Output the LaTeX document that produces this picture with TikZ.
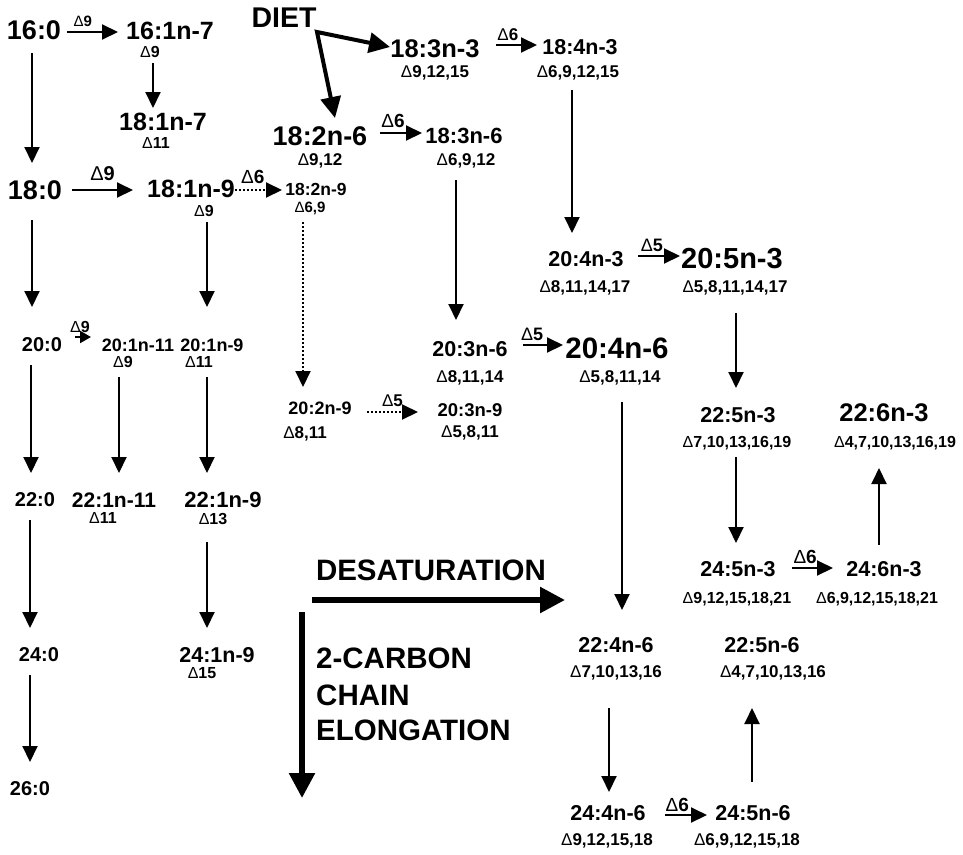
\documentclass[tikz,border=0pt]{standalone}
\usepackage{fontspec}
\setmainfont{Liberation Sans}
\usetikzlibrary{arrows.meta}
\newcommand\fsz[1]{\fontsize{#1}{#1}\selectfont}
\newcommand\dlt{{\mdseries Δ}}
\begin{document}
\begin{tikzpicture}[x=1pt,y=-1pt,
  tx/.style={inner sep=0pt, text depth=0pt, font=\bfseries\fsz{#1}},
  tx/.default=21,
  elab/.style={inner sep=0pt, text depth=0pt, font=\bfseries\fsz{#1}},
  elab/.default=18,
  arr/.style={line width=2pt, -{Triangle[length=16pt,width=15pt]}},
  dotarr/.style={arr, dash pattern=on 2pt off 2pt},
  dietarr/.style={line width=4pt, line join=miter, {Triangle[length=21pt,width=20pt]}-{Triangle[length=21pt,width=20pt]}},
  bigarr/.style={line width=5.5pt, -{Triangle[length=25pt,width=25pt]}}]
\fill[white] (0,0) rectangle (963,854);
\useasboundingbox (0,0) rectangle (963,854);
% ---- nodes
\node[tx=27] (n160) at (34,30) {16:0};
\node[tx=25] (n161) at (170,31) {16:1n-7};
\node[tx=16] (d161) at (150,52) {\dlt9};
\node[tx=25] (n181n7) at (163,122) {18:1n-7};
\node[tx=16] (d181n7) at (156,143) {\dlt11};
\node[tx=28.5] (diet) at (284,18) {DIET};
\node[tx=25.5] (n183) at (435,49) {18:3n-3};
\node[tx=17] (d183) at (435,72) {\dlt9,12,15};
\node[tx=21.5] (n184) at (580,47) {18:4n-3};
\node[tx=17] (d184) at (578,72) {\dlt6,9,12,15};
\node[tx=27] (n182n6) at (320,136) {18:2n-6};
\node[tx=17] (d182n6) at (320,160) {\dlt9,12};
\node[tx=22] (n183n6) at (464,136) {18:3n-6};
\node[tx=17] (d183n6) at (466,160) {\dlt6,9,12};
\node[tx=27] (n180) at (35,190) {18:0};
\node[tx=25] (n181n9) at (191,189) {18:1n-9};
\node[tx=16] (d181n9) at (204,211) {\dlt9};
\node[tx=17.5] (n182n9) at (316,189) {18:2n-9};
\node[tx=15] (d182n9) at (310,207) {\dlt6,9};
\node[tx=21.5] (n204n3) at (586,259) {20:4n-3};
\node[tx=17] (d204n3) at (585,287) {\dlt8,11,14,17};
\node[tx=29] (n205n3) at (732,258) {20:5n-3};
\node[tx=17] (d205n3) at (735,287) {\dlt5,8,11,14,17};
\node[tx=20] (n200) at (42,345) {20:0};
\node[tx=18] (n201n11) at (138,345) {20:1n-11};
\node[tx=16] (d201n11) at (123,362) {\dlt9};
\node[tx=18] (n201n9) at (212,345) {20:1n-9};
\node[tx=16] (d201n9) at (199,362) {\dlt11};
\node[tx=21.5] (n203n6) at (470,349) {20:3n-6};
\node[tx=17] (d203n6) at (470,377) {\dlt8,11,14};
\node[tx=29.5] (n204n6) at (617,348) {20:4n-6};
\node[tx=17] (d204n6) at (620,377) {\dlt5,8,11,14};
\node[tx=18] (n202n9) at (320,408) {20:2n-9};
\node[tx=17] (d202n9) at (305,433) {\dlt8,11};
\node[tx=18.5] (n203n9) at (470,410) {20:3n-9};
\node[tx=17] (d203n9) at (470,432) {\dlt5,8,11};
\node[tx=21.5] (n225n3) at (738,415) {22:5n-3};
\node[tx=16] (d225n3) at (737,442) {\dlt7,10,13,16,19};
\node[tx=25.5] (n226n3) at (884,413) {22:6n-3};
\node[tx=16] (d226n3) at (895,442) {\dlt4,7,10,13,16,19};
\node[tx=20] (n220) at (35,500) {22:0};
\node[tx=21] (n221n11) at (114,500) {22:1n-11};
\node[tx=16] (d221n11) at (103,518) {\dlt11};
\node[tx=22] (n221n9) at (223,500) {22:1n-9};
\node[tx=16] (d221n9) at (213,519) {\dlt13};
\node[tx=29.5] (desat) at (431,570) {DESATURATION};
\node[tx=21.5] (n245n3) at (738,569) {24:5n-3};
\node[tx=16] (d245n3) at (737,598) {\dlt9,12,15,18,21};
\node[tx=21.5] (n246n3) at (884,569) {24:6n-3};
\node[tx=16] (d246n3) at (877,598) {\dlt6,9,12,15,18,21};
\node[tx=21.5] (n224n6) at (616,645) {22:4n-6};
\node[tx=17] (d224n6) at (616,672) {\dlt7,10,13,16};
\node[tx=21.5] (n225n6) at (762,645) {22:5n-6};
\node[tx=17] (d225n6) at (773,672) {\dlt4,7,10,13,16};
\node[tx=20] (n240) at (39,655) {24:0};
\node[tx=21.5] (n241n9) at (217,655) {24:1n-9};
\node[tx=16] (d241n9) at (202,673) {\dlt15};
\node[tx=29.5,anchor=west] (el1) at (316,658) {2-CARBON};
\node[tx=29.5,anchor=west] (el2) at (316,695) {CHAIN};
\node[tx=29.5,anchor=west] (el3) at (316,730) {ELONGATION};
\node[tx=20] (n260) at (30,789) {26:0};
\node[tx=21.5] (n244n6) at (608,813) {24:4n-6};
\node[tx=17] (d244n6) at (607,840) {\dlt9,12,15,18};
\node[tx=21.5] (n245n6) at (753,813) {24:5n-6};
\node[tx=17] (d245n6) at (747,840) {\dlt6,9,12,15,18};
% ---- connectors
\draw[arr] ([xshift=33pt,yshift=-2pt]n160.center) -- node[elab=15,pos=.31,above=5pt]{\dlt9} ([xshift=-52pt,yshift=-1pt]n161.center);
\draw[arr] ([xshift=-2pt,yshift=-23pt]n160.center) -- ([xshift=-3pt,yshift=27pt]n180.center);
\draw[arr] ([xshift=3pt,yshift=-11pt]d161.center) -- ([xshift=-10pt,yshift=14pt]n181n7.center);
\draw[dietarr] ([xshift=15pt,yshift=18pt]n182n6.center) -- ([xshift=33pt,yshift=-14pt]diet.center) -- ([xshift=-45pt,yshift=2pt]n183.center);
\draw[arr] ([xshift=61pt,yshift=4pt]n183.center) -- node[elab=17,pos=.29,above=4pt]{\dlt6} ([xshift=-43pt,yshift=2pt]n184.center);
\draw[arr] ([xshift=-6pt,yshift=-18pt]d184.center) -- ([xshift=-14pt,yshift=26pt]n204n3.center);
\draw[arr] ([xshift=52pt,yshift=3pt]n204n3.center) -- node[elab=18,pos=.33,above=4pt]{\dlt5} ([xshift=-52pt,yshift=2pt]n205n3.center);
\draw[arr] ([xshift=60pt,yshift=3pt]n182n6.center) -- node[elab=19,pos=.31,above=5pt]{\dlt6} ([xshift=-42pt,yshift=3pt]n183n6.center);
\draw[arr] ([xshift=-10pt,yshift=-20pt]d183n6.center) -- ([xshift=-14pt,yshift=29pt]n203n6.center);
\draw[arr] ([xshift=37pt]n180.center) -- node[elab=20,pos=.5,above=9pt]{\dlt9} ([xshift=-58pt,yshift=-1pt]n181n9.center);
\draw[dotarr] ([xshift=44pt,yshift=-1pt]n181n9.center) -- node[elab=19,pos=.38,above=6pt]{\dlt6} ([xshift=-34pt,yshift=-1pt]n182n9.center);
\draw[arr] ([xshift=-3pt,yshift=-30pt]n180.center) -- ([xshift=-10pt,yshift=38pt]n200.center);
\draw[arr] ([xshift=3pt,yshift=-11pt]d181n9.center) -- ([xshift=-5pt,yshift=38pt]n201n9.center);
\draw[dotarr] ([xshift=-7pt,yshift=-15pt]d182n9.center) -- ([xshift=-17pt,yshift=21pt]n202n9.center);
\draw[line width=2pt,-{Triangle[length=11pt,width=12pt]}] ([xshift=33pt,yshift=8pt]n200.center) -- node[elab=16,pos=.31,above=4pt]{\dlt9} ([xshift=-47pt,yshift=8pt]n201n11.center);
\draw[arr] ([xshift=-11pt,yshift=-20pt]n200.center) -- ([xshift=-4pt,yshift=27pt]n220.center);
\draw[arr] ([xshift=-4pt,yshift=-15pt]d201n11.center) -- ([xshift=5pt,yshift=27pt]n221n11.center);
\draw[arr] ([xshift=8pt,yshift=-15pt]d201n9.center) -- ([xshift=-16pt,yshift=27pt]n221n9.center);
\draw[arr] ([xshift=53pt,yshift=4pt]n203n6.center) -- node[elab=18,pos=.23,above=4pt]{\dlt5} ([xshift=-54pt,yshift=3pt]n204n6.center);
\draw[dotarr] ([xshift=47pt,yshift=-4pt]n202n9.center) -- node[elab=17,pos=.5,above=5pt]{\dlt5} ([xshift=-52pt,yshift=-2pt]n203n9.center);
\draw[arr] ([xshift=2pt,yshift=-25pt]d204n6.center) -- ([xshift=6pt,yshift=35pt]n224n6.center);
\draw[arr] ([xshift=1pt,yshift=-26pt]d205n3.center) -- ([xshift=-2pt,yshift=27pt]n225n3.center);
\draw[arr] ([xshift=-1pt,yshift=-15pt]d225n3.center) -- ([xshift=-2pt,yshift=26pt]n245n3.center);
\draw[arr] ([xshift=54pt,yshift=1pt]n245n3.center) -- node[elab=19,pos=.32,above=4pt]{\dlt6} ([xshift=-51pt,yshift=1pt]n246n3.center);
\draw[arr] ([xshift=-5pt,yshift=24pt]n246n3.center) -- ([xshift=-16pt,yshift=-26pt]d226n3.center);
\draw[arr] ([xshift=-5pt,yshift=-20pt]n220.center) -- ([xshift=-9pt,yshift=27pt]n240.center);
\draw[arr] ([xshift=-6pt,yshift=-23pt]d221n9.center) -- ([xshift=-10pt,yshift=27pt]n241n9.center);
\draw[arr] ([xshift=-9pt,yshift=-20pt]n240.center) -- ([yshift=27pt]n260.center);
\draw[bigarr] ([xshift=-119pt,yshift=-30pt]desat.center) -- ([xshift=134pt,yshift=-30pt]desat.center);
\draw[bigarr] ([xshift=-14pt,yshift=46pt]el1.west) -- ([xshift=-14pt,yshift=-68pt]el3.west);
\draw[arr] ([xshift=-7pt,yshift=-36pt]d224n6.center) -- ([xshift=1pt,yshift=21pt]n244n6.center);
\draw[arr] ([xshift=57pt,yshift=-2pt]n244n6.center) -- node[elab=19,pos=.29,above=3pt]{\dlt6} ([xshift=-46pt,yshift=-2pt]n245n6.center);
\draw[arr] ([xshift=-1pt,yshift=31pt]n245n6.center) -- ([xshift=-21pt,yshift=-36pt]d225n6.center);
\end{tikzpicture}
\end{document}
